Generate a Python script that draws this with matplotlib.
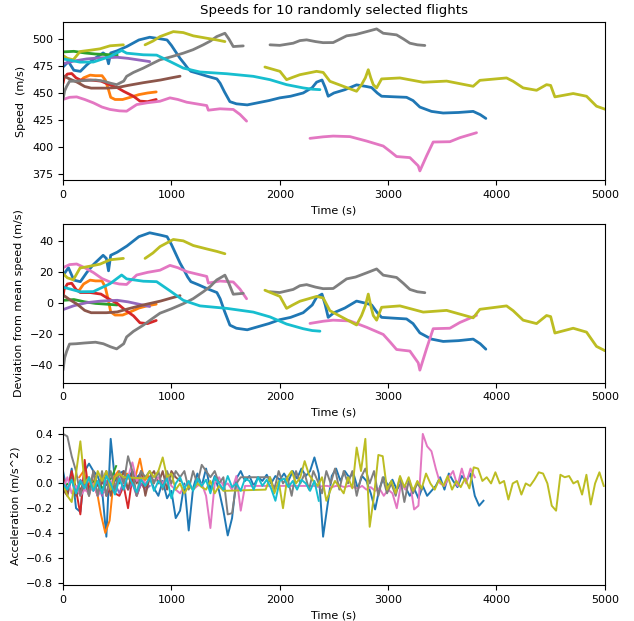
"""Speed, speed deviation and acceleration for 10 randomly selected flights."""
import numpy as np
import matplotlib
matplotlib.use("Agg")
import matplotlib.pyplot as plt

NAN = np.nan

# ---------------- speed traces ------------------------------------------------
# time [s] / ground speed [m/s]; NaN marks a hole in the recording
blue_t = [0, 50, 100, 160, 220, 280, 370, 400, 420, 440, 500, 590, 700, 800, 900,
          960, 1000, 1040, 1080, 1120, 1150, 1180, 1250, 1330, 1420, 1450, 1490,
          1540, 1600, 1700, 1800, 1900, 2000, 2100, 2216, 2300, 2340, 2390, 2420,
          2447, 2500, 2600, 2709, 2800, 2848, 2900, 2940, 3050, 3170, 3230, 3293,
          3400, 3508, 3650, 3785, 3850, 3902]
blue_v = [474, 479, 471, 470, 476, 481, 487, 485, 477, 487, 489, 493, 499, 501.5, 500,
          499, 494, 488, 482, 477, 473, 470, 468, 465.5, 463, 459, 451,
          442, 440, 439, 441, 443, 445.5, 447, 450, 455, 460, 462, 455,
          447, 450, 453, 457.5, 456, 455, 450, 447, 446.5, 446, 443, 437,
          433, 431.5, 432, 433, 430, 426.5]

orange_t = [150, 190, 250, 300, 360, 390, 420, 440, 480, 550, 620, 700, 780, 860]
orange_v = [460, 464, 466.5, 466, 466, 462, 453, 446, 444, 444, 446, 448.5, 450, 451]

green_t = [10, 100, 200, 300, 400, 500]
green_v = [488, 488.5, 487, 486, 485.5, 485]

red_t = [0, 10, 40, 80, 120, 160, 250, 350, 420, 500, 560, 650, 710, 780, 860]
red_v = [459, 464, 467.5, 468, 464, 462, 462, 461, 458, 455, 451.5, 447, 442.5, 442, 444]

purple_t = [0, 100, 220, 350, 500, 600, 700, 800]
purple_v = [477, 479.5, 481.5, 482.5, 483, 482, 480.5, 479]

brown_t = [0, 60, 130, 200, 260, 400, 500, 600, 740, 900, 1000, 1080]
brown_v = [466, 463, 460, 456, 454.5, 454.5, 455, 457, 459.5, 462, 464, 465.5]

pink_t = [0, 60, 126, 200, 280, 360, 434, 520, 587, 680, 780, 895, 987, 1060, 1141,
          1230, 1326, 1341, 1448, 1571, 1633, 1694, 1990, 2279, 2400, 2493, 2648,
          2802, 2955, 3020, 3078, 3201, 3278, 3293, 3355, 3416, 3570, 3662, 3816]
pink_v = [444, 446, 446.4, 444, 440.9, 437, 434.8, 433.5, 433.2, 439.3, 441, 442.4,
          445.5, 444, 441.5, 440, 438.4, 434.1, 435.4, 434.8, 430.2, 424, NAN,
          408.1, 409.5, 410.2, 409.7, 405.6, 401, 396, 391.3, 390.3, 382.7, 378,
          391.9, 404.7, 405, 408.7, 413.3]

gray_t = [0, 15, 34, 60, 120, 200, 300, 372, 440, 495, 560, 587, 650, 741, 820, 895,
          1000, 1110, 1200, 1294, 1360, 1418, 1494, 1530, 1571, 1663, 1780, 1910,
          2000, 2124, 2186, 2248, 2330, 2400, 2493, 2617, 2700, 2802, 2894, 2955,
          3078, 3140, 3201, 3270, 3339]
gray_v = [444, 452, 456.2, 460.8, 461, 461.5, 462, 461, 459, 457.7, 461, 465.4, 469,
          473, 477, 480.7, 483.5, 486.8, 490, 494.5, 498, 502.1, 505.2, 500, 492.9,
          493.5, NAN, 494.5, 494, 496, 498.4, 499.1, 497.5, 496.5, 496.6, 502.8, 504,
          506.7, 509.2, 505.2, 503.7, 500, 496, 494.5, 493.9]

olive_t = [0, 40, 95, 157, 250, 341, 434, 557, 650, 757, 830, 895, 1018, 1110, 1202,
           1326, 1420, 1494, 1700, 1863, 2002, 2063, 2120, 2186, 2340, 2401, 2463,
           2586, 2709, 2755, 2790, 2817, 2840, 2863, 2894, 2940, 3109, 3324, 3540,
           3785, 3847, 4093, 4154, 4246, 4370, 4462, 4500, 4539, 4708, 4831, 4923,
           4991, 5000]
olive_v = [484.7, 482, 480.7, 488.3, 489.5, 490.8, 493.6, 494.5, NAN, 494.5, 498,
           502.1, 506.7, 505.8, 502.8, 500.6, 499, 497.5, NAN, 474, 470, 462.3, 464.5,
           466.9, 470, 469, 460.8, 456.2, 451.6, 457.7, 464, 471.5, 464, 457.7,
           454.7, 463, 463.9, 459.9, 461, 456.2, 461.7, 463.9, 460.8, 454.7, 452.5,
           457.7, 457, 446.4, 449.5, 447, 437.8, 435.4, 435]

cyan_t = [0, 157, 280, 434, 541, 587, 741, 864, 987, 1110, 1264, 1510, 1756, 1910,
          2063, 2216, 2300, 2371]
cyan_v = [481.5, 478.5, 478.6, 483.7, 489.3, 486.8, 485.3, 485, 479.1, 473, 469.4,
          467.8, 465.4, 462.3, 457.7, 454.7, 453.5, 453.1]

# per-flight mean speed [m/s] (speed minus deviation)
mean_speed = [456.5, 452, 486.5, 455.5, 481.5, 461, 421.5, 487.5, 466, 471.5]

# ---------------- acceleration traces (m/s^2, one sample every ACC_STEP s) -----
ACC_STEP = 40
acc_blue = [(0, [0.10, -0.08, 0.12, -0.20, -0.23, 0.10, 0.16, 0.10, 0.06, -0.05,
                 -0.43, 0.36, 0.02, 0.08, 0.10, 0.04, 0.10, 0.05, 0.08, -0.02,
                 0.05, -0.04, -0.10, 0.02, -0.12, -0.06, -0.28, -0.22, 0.00, -0.38,
                 -0.04, 0.08, -0.02, 0.12, -0.05, 0.06, -0.06, -0.22, -0.42, -0.28,
                 0.04, 0.10, 0.02, 0.06, -0.02, 0.05, 0.02, 0.07, 0.00, 0.06,
                 0.03, 0.08, 0.02, 0.10, 0.04, 0.12, 0.06, 0.10, 0.21, 0.08,
                 -0.43, -0.18, 0.06, 0.12, 0.02, 0.10, 0.05, 0.08, -0.04, 0.06,
                 0.02, -0.08, -0.21, -0.04, 0.05, -0.02, 0.03, -0.05, 0.00, -0.03,
                 -0.10, -0.04, -0.12, -0.02, -0.10, -0.06, -0.02, 0.05, -0.05, 0.08,
                 0.02, -0.03, 0.06, 0.02, 0.08, -0.10, -0.18, -0.14])]
acc_orange = [(150, [0.05, 0.10, -0.02, 0.04, -0.05, -0.25, -0.40, -0.30, 0.05,
                     0.10, 0.02, 0.08, 0.00, 0.06, 0.20, 0.02, 0.06, 0.00])]
acc_green = [(10, [-0.02, 0.00, 0.03, -0.05, 0.02, 0.00, -0.03, 0.02, 0.00, -0.04,
                   0.00, 0.05, 0.14])]
acc_red = [(0, [0.05, -0.08, 0.10, -0.05, -0.25, 0.19, -0.08, 0.00, -0.10, 0.05,
                -0.10, 0.00, -0.08, -0.10, -0.02, -0.20, 0.05, -0.10, 0.00, -0.05,
                0.05, 0.02])]
acc_purple = [(0, [0.02, -0.05, 0.04, -0.08, 0.03, -0.02, 0.05, -0.06, 0.00, -0.10,
                   0.02, -0.04, 0.00, -0.08, 0.02, -0.05, 0.00, -0.10, 0.00, -0.05,
                   -0.02])]
acc_brown = [(0, [-0.05, -0.10, 0.05, -0.10, -0.05, 0.02, -0.10, 0.10, -0.02, 0.00,
                  0.10, -0.10, 0.05, 0.00, 0.10, -0.05, 0.10, 0.00, 0.10, -0.10,
                  0.05, 0.10, 0.00, 0.10, -0.05, 0.10, 0.05, 0.02])]
acc_pink = [(0, [-0.05, 0.05, -0.08, -0.02, -0.10, -0.05, -0.08, 0.00, -0.10, -0.05,
                 -0.08, 0.02, -0.02, 0.05, 0.00, 0.05, 0.17, 0.02, 0.05, 0.00,
                 0.04, 0.02, 0.05, 0.00, 0.05, -0.02, -0.05, -0.08, -0.02, 0.00,
                 -0.05, -0.02, 0.00, -0.10, -0.36, 0.00, 0.05, -0.02, 0.00, -0.05,
                 0.06, -0.22, -0.02]),
            (2280, [-0.02, -0.02, -0.03, -0.02, -0.02, -0.03, -0.02, -0.02, -0.03,
                    -0.02, -0.03, -0.04, -0.02, -0.05, -0.03, -0.06, -0.04, -0.10,
                    -0.05, -0.08, -0.20, 0.00, -0.05, 0.02, -0.21, -0.18, 0.40, 0.30,
                    0.26, 0.12, 0.00, -0.02, 0.05, 0.10, -0.02, 0.12, 0.00, 0.12,
                    0.05])]
acc_gray = [(0, [0.40, 0.38, 0.22, 0.10, -0.10, 0.05, -0.10, 0.10, -0.10, 0.10,
                 -0.10, 0.10, -0.05, 0.10, 0.00, 0.22, 0.10, -0.10, 0.10, 0.05,
                 0.10, 0.00, 0.10, -0.05, 0.10, 0.00, 0.10, 0.05, 0.10, -0.05,
                 0.10, 0.00, 0.15, 0.10, 0.05, 0.10, 0.00, 0.05, -0.25, -0.24,
                 0.00, 0.05]),
            (1910, [0.05, -0.05, 0.10, 0.00, 0.05, -0.10, 0.10, 0.00, 0.08, -0.05,
                    0.10, 0.02, -0.08, 0.10, 0.00, 0.12, -0.05, 0.10, 0.00, 0.10,
                    -0.10, 0.05, 0.12, 0.00, 0.10, -0.10, 0.05, -0.08, 0.00, -0.10,
                    0.05, -0.15, 0.02, -0.08, 0.00, -0.05])]
acc_olive = [(0, [0.00, -0.10, -0.15, 0.08, 0.34, 0.00, 0.05, -0.05, 0.10, 0.02,
                  0.10, -0.05, 0.05, 0.08, 0.05]),
             (760, [0.04, 0.10, 0.05, 0.10, 0.21, 0.05, 0.08, -0.05, 0.00, -0.08,
                    -0.02, -0.05, 0.00, -0.03, -0.05, 0.02, -0.08, -0.02, -0.06]),
             (1870, [-0.05, 0.05, -0.08, 0.02, -0.20, 0.05, 0.10, 0.00, 0.05, 0.18,
                     0.07, 0.02, -0.02, 0.05, -0.14, -0.05, 0.02, -0.03, -0.08, 0.05,
                     -0.04, 0.29, 0.10, 0.36, -0.35, -0.10, 0.23, 0.22, -0.05, 0.02,
                     -0.08, 0.06, -0.03, 0.05, -0.06, 0.02, -0.04, 0.08, 0.00, -0.05,
                     0.03, -0.02, 0.06, -0.05, 0.02, -0.03, 0.04, -0.04, 0.13, 0.12,
                     0.02, 0.05, 0.00, 0.09, 0.00, 0.02, -0.13, 0.00, 0.02, -0.09,
                     0.00, -0.02, 0.03, 0.09, 0.08, 0.00, -0.18, -0.22, 0.07, 0.05,
                     0.06, 0.00, 0.02, -0.09, 0.07, -0.17, 0.00, 0.09, -0.02])]
acc_cyan = [(0, [0.00, -0.05, 0.03, -0.08, 0.02, -0.04, 0.05, -0.06, 0.02, -0.08,
                 0.06, 0.00, -0.09, 0.04, -0.05, 0.07, 0.00, -0.07, 0.03, -0.02,
                 0.05, -0.06, 0.02, -0.03, 0.04, -0.12, 0.00, 0.05, -0.04, 0.02,
                 -0.06, 0.04, -0.02, 0.03, -0.08, 0.05, 0.00, -0.05, 0.06, -0.03,
                 0.00, -0.06, 0.04, 0.02, -0.05, 0.05, -0.02, 0.03, -0.04, -0.14,
                 0.02, 0.04, -0.03, 0.02, -0.05, 0.03, 0.00, -0.06, 0.02, -0.14])]

speed_t = [blue_t, orange_t, green_t, red_t, purple_t, brown_t, pink_t, gray_t,
           olive_t, cyan_t]
speed_v = [blue_v, orange_v, green_v, red_v, purple_v, brown_v, pink_v, gray_v,
           olive_v, cyan_v]
accel = [acc_blue, acc_orange, acc_green, acc_red, acc_purple, acc_brown, acc_pink,
         acc_gray, acc_olive, acc_cyan]


def acc_series(segments):
    ts, vs = [], []
    for start, vals in segments:
        ts.append(start + ACC_STEP * np.arange(len(vals)))
        vs.append(np.asarray(vals, dtype=float))
    return np.concatenate(ts), np.concatenate(vs)


plt.rcParams.update({"font.size": 8, "axes.titlesize": 9.6})
fig, axes = plt.subplots(3, 1, figsize=(6.34, 6.21), dpi=100)
fig.subplots_adjust(left=0.0994, right=0.954, top=0.9646, bottom=0.058, hspace=0.28)

for i in range(10):
    col = f"C{i}"
    t = np.asarray(speed_t[i], dtype=float)
    v = np.asarray(speed_v[i], dtype=float)
    axes[0].plot(t, v, color=col, lw=2.0, solid_capstyle="round")
    axes[1].plot(t, v - mean_speed[i], color=col, lw=2.0, solid_capstyle="round")
    ta, a = acc_series(accel[i])
    axes[2].plot(ta, a, color=col, lw=1.4)

axes[0].set_title("Speeds for 10 randomly selected flights")
axes[0].set_ylabel("Speed  (m/s)")
axes[0].set_ylim(369.5, 515.6)
axes[1].set_ylabel("Deviation from mean speed (m/s)")
axes[1].set_ylim(-51.5, 50.4)
axes[2].set_ylabel("Acceleration (m/s^2)")
axes[2].set_ylim(-0.82, 0.457)
axes[2].set_yticks([0.4, 0.2, 0.0, -0.2, -0.4, -0.6, -0.8])
for ax in axes:
    ax.set_xlim(0, 5000)
    ax.set_xticks(range(0, 5001, 1000))
    ax.set_xlabel("Time (s)")

fig.savefig("out.png", dpi=100)
